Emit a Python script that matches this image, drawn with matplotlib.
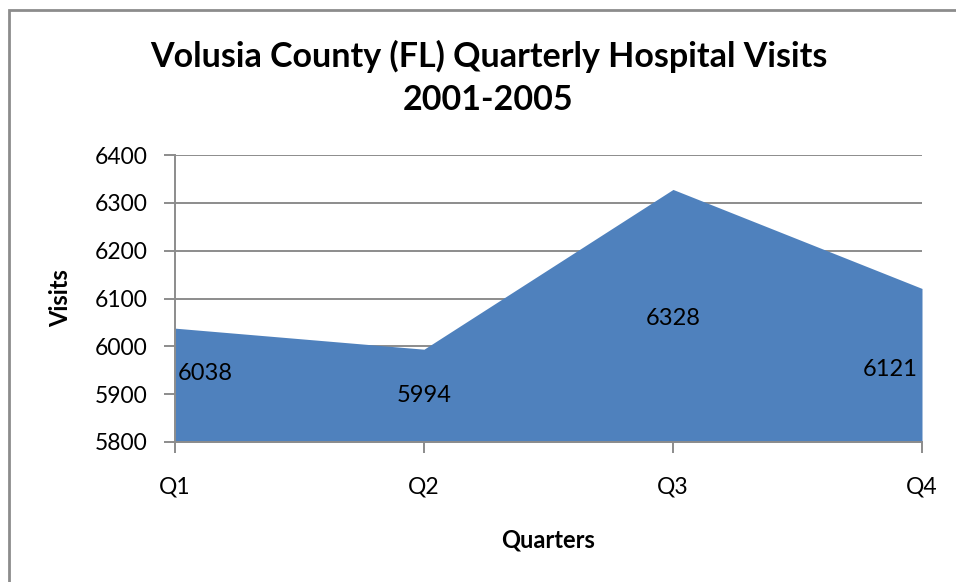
import matplotlib.pyplot as plt
from matplotlib.patches import Rectangle
import numpy as np

# Quarterly visit totals
quarters = ["Q1", "Q2", "Q3", "Q4"]
visits = [6038, 5994, 6328, 6121]
y_ticks = [5800, 5900, 6000, 6100, 6200, 6300, 6400]

plt.rcParams['font.family'] = ['Lato', 'DejaVu Sans']

fig = plt.figure(figsize=(9.56, 5.82), dpi=100)
ax = fig.add_axes([175 / 956, 1 - 442 / 582, 747 / 956, 287 / 582])

x = np.arange(len(quarters))
ax.fill_between(x, 5800, visits, color="#4F81BD", linewidth=0, zorder=2)

ax.set_xlim(0, len(quarters) - 1)
ax.set_ylim(5800, 6400)
ax.set_yticks(y_ticks)
ax.set_xticks(x)
ax.set_xticklabels(quarters)

ax.grid(axis="y", color="#8c8c8c", linewidth=1.4, zorder=1)
ax.set_axisbelow(True)
for side in ["top", "right"]:
    ax.spines[side].set_visible(False)
for side in ["left", "bottom"]:
    ax.spines[side].set_color("#8c8c8c")
    ax.spines[side].set_linewidth(1.4)
    ax.spines[side].set_zorder(3)

ax.tick_params(axis="y", length=8, width=1.4, color="#8c8c8c", pad=12, labelsize=16.5)
ax.tick_params(axis="x", length=8, width=1.4, color="#8c8c8c", pad=17, labelsize=16.5)

# data labels sit halfway up each column of the area
label_shift = [8, 0, -2, -3]
for i, v in enumerate(visits):
    ha = "center"
    xo = 0
    if i == 0:
        ha = "left"
        xo = 2
    elif i == len(visits) - 1:
        ha = "right"
        xo = -3
    ax.annotate(str(v), (i, (v + 5800) / 2), xytext=(xo, label_shift[i]),
                textcoords="offset points", ha=ha, va="center",
                fontsize=17, color="black", zorder=4)

fig.text(0.511, 1 - 78 / 582, "Volusia County (FL) Quarterly Hospital Visits\n2001-2005",
         ha="center", va="center", fontsize=24.5, fontweight="bold", linespacing=1.45)
ax.set_ylabel("Visits", fontsize=17, fontweight="bold", labelpad=16)
ax.set_xlabel("Quarters", fontsize=17, fontweight="bold", labelpad=22)

# chart frame
fig.patches.append(Rectangle((8.5 / 956, -0.1), 1.2, 1 - 9.5 / 582 + 0.1,
                             transform=fig.transFigure, fill=False,
                             edgecolor="#8c8c8c", linewidth=2))

fig.savefig("out.png", dpi=100)
